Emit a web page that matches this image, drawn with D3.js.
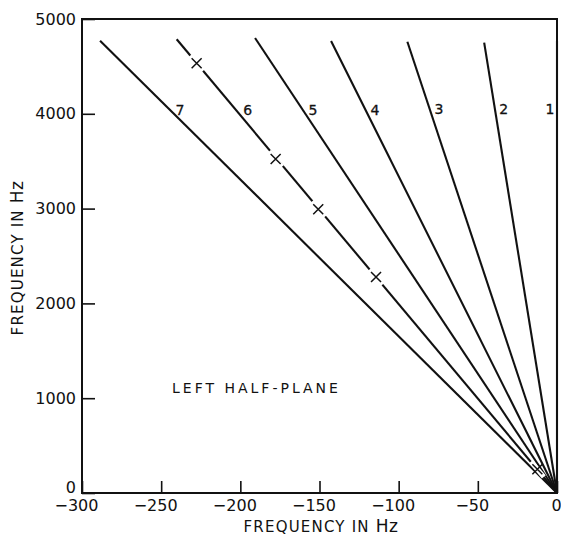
<!DOCTYPE html>
<html>
<head>
<meta charset="utf-8">
<script src="https://cdn.jsdelivr.net/npm/d3@7"></script>
<style>
  body { margin: 0; background: #fff; }
  text { font-family: "DejaVu Sans", sans-serif; fill: #111; }
</style>
</head>
<body>
<script>
// rays from the origin, numbered 1..7 (end point read at the top of each ray)
var lineNames = ["1", "2", "3", "4", "5", "6", "7"];
var lineEndX = [0, -46, -94.5, -142.7, -190.7, -240.2, -288.6];
var lineEndY = [4770, 4750, 4760, 4768, 4800, 4786, 4771];

// where the number of each ray sits
var labelX = [-4.4, -33.6, -74.6, -115, -154.1, -195.3, -238.1];
var labelY = [4050, 4050, 4050, 4045, 4040, 4040, 4045];

// crosses on ray 6
var markerX = [-227.6, -177.7, -150.8, -114.3, -12.4];
var markerY = [4533, 3523, 2993, 2278, 250];

var xTicks = [-300, -250, -200, -150, -100, -50, 0];
var yTicks = [0, 1000, 2000, 3000, 4000, 5000];

var w = 561;
var h = 536;
var margin = {top: 19, right: 4, bottom: 43, left: 82};

var svg = d3.select("body")
            .append("svg")
            .attr("width", w)
            .attr("height", h);

var x = d3.scaleLinear().domain([-300, 0]).range([margin.left, w - margin.right]);
var y = d3.scaleLinear().domain([0, 5000]).range([h - margin.bottom, margin.top]);

// axes, ticks point inward
var xAxis = svg.append("g")
  .attr("transform", "translate(0," + y(0) + ")")
  .call(d3.axisBottom(x).tickValues(xTicks).tickSize(-12).tickPadding(7));
xAxis.selectAll("text")
  .attr("font-size", 16)
  .attr("dx", function(d) { return d < 0 ? -6 : -1; });

var yAxis = svg.append("g")
  .attr("transform", "translate(" + x(-300) + ",0)")
  .call(d3.axisLeft(y).tickValues(yTicks).tickFormat(d3.format("d")).tickSize(-13).tickPadding(6));
yAxis.selectAll("text")
  .attr("font-size", 16)
  .attr("dy", function(d) { return d === 0 ? "-0.06em" : "0.32em"; });

svg.selectAll(".domain").remove();
svg.selectAll(".tick line").attr("stroke", "#111").attr("stroke-width", 1.6);

// frame
svg.append("rect")
  .attr("x", x(-300))
  .attr("y", y(5000))
  .attr("width", x(0) - x(-300))
  .attr("height", y(0) - y(5000))
  .attr("fill", "none")
  .attr("stroke", "#111")
  .attr("stroke-width", 2);

var rays = lineNames.map(function(n, i) {
  return {name: n, ex: lineEndX[i], ey: lineEndY[i], lx: labelX[i], ly: labelY[i]};
});

svg.selectAll(".ray")
  .data(rays)
  .enter()
  .append("line")
  .attr("class", "ray")
  .attr("x1", x(0))
  .attr("y1", y(0))
  .attr("x2", function(d) { return x(d.ex); })
  .attr("y2", function(d) { return y(d.ey); })
  .attr("stroke", "#111")
  .attr("stroke-width", 2.1);

svg.selectAll(".rayname")
  .data(rays)
  .enter()
  .append("text")
  .attr("class", "rayname")
  .text(function(d) { return d.name; })
  .attr("x", function(d) { return x(d.lx); })
  .attr("y", function(d) { return y(d.ly); })
  .attr("text-anchor", "middle")
  .attr("dominant-baseline", "central")
  .attr("font-size", 14)
  .attr("stroke", "#111")
  .attr("stroke-width", 0.3);

// crosses with a small break in the ray around them
var ray6 = rays[5];
var ang = Math.atan2(y(ray6.ey) - y(0), x(ray6.ex) - x(0));
var markers = markerX.map(function(v, i) { return {mx: v, my: markerY[i]}; });

svg.selectAll(".gap")
  .data(markers)
  .enter()
  .append("line")
  .attr("class", "gap")
  .attr("x1", function(d) { return x(d.mx) - 10 * Math.cos(ang); })
  .attr("y1", function(d) { return y(d.my) - 10 * Math.sin(ang); })
  .attr("x2", function(d) { return x(d.mx) + 10 * Math.cos(ang); })
  .attr("y2", function(d) { return y(d.my) + 10 * Math.sin(ang); })
  .attr("stroke", "#fff")
  .attr("stroke-width", 5);

svg.selectAll(".cross")
  .data(markers)
  .enter()
  .append("path")
  .attr("class", "cross")
  .attr("d", function(d) {
    var cx = x(d.mx), cy = y(d.my), r = 5;
    return "M" + (cx - r) + "," + (cy - r) + "L" + (cx + r) + "," + (cy + r) +
           "M" + (cx - r) + "," + (cy + r) + "L" + (cx + r) + "," + (cy - r);
  })
  .attr("stroke", "#111")
  .attr("stroke-width", 1.5)
  .attr("fill", "none");

svg.append("text")
  .attr("x", 172)
  .attr("y", 393)
  .attr("font-size", 14)
  .attr("letter-spacing", 3)
  .text("LEFT HALF-PLANE");

// axis titles
var xt = svg.append("text")
  .attr("x", 321)
  .attr("y", 532)
  .attr("text-anchor", "middle")
  .attr("font-size", 15)
  .attr("letter-spacing", 1.2);
xt.append("tspan").text("FREQUENCY IN ");
xt.append("tspan").attr("font-size", 17).attr("letter-spacing", 0.5).text("Hz");

var yt = svg.append("text")
  .attr("transform", "translate(23,258) rotate(-90)")
  .attr("text-anchor", "middle")
  .attr("font-size", 15)
  .attr("letter-spacing", 1.2);
yt.append("tspan").text("FREQUENCY IN ");
yt.append("tspan").attr("font-size", 17).attr("letter-spacing", 0.5).text("Hz");
</script>
</body>
</html>
